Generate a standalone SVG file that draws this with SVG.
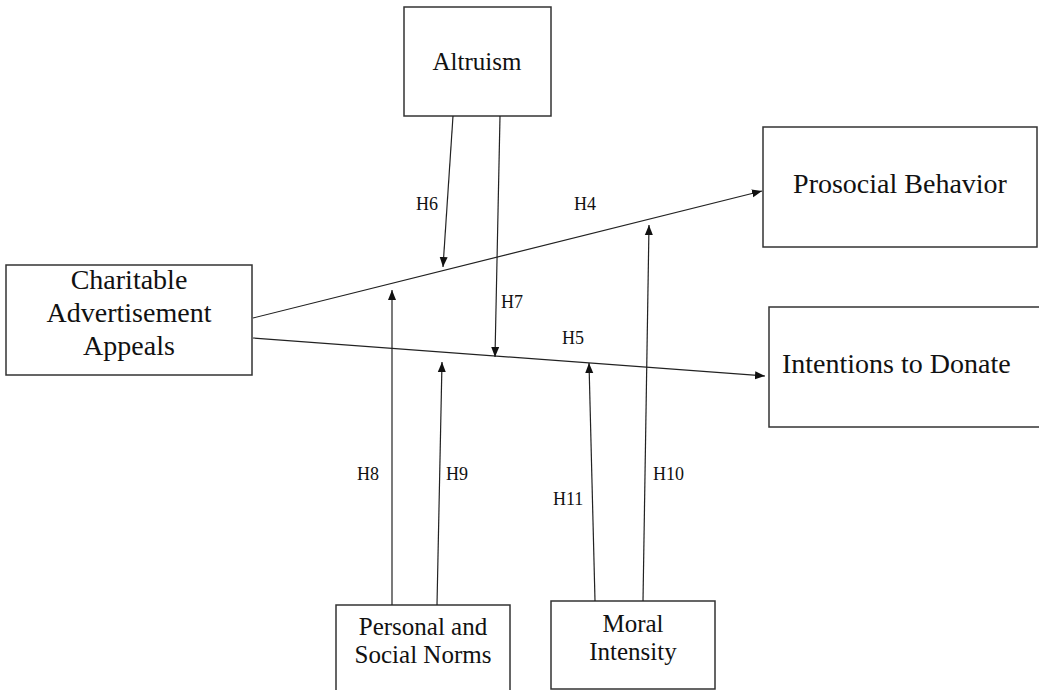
<svg xmlns="http://www.w3.org/2000/svg" width="1039" height="690" viewBox="0 0 1039 690">
<defs>
<marker id="ah" viewBox="0 0 10 10" refX="10" refY="5" markerWidth="10" markerHeight="10" markerUnits="userSpaceOnUse" orient="auto">
<path d="M0,1 L10,5 L0,9 Z" fill="#111"/>
</marker>
<style>
.box{fill:#fff;stroke:#333;stroke-width:1.5}
.t{font-family:"Liberation Serif","Times New Roman",serif;fill:#111;text-anchor:middle}
.lbl{font-family:"Liberation Serif","Times New Roman",serif;fill:#111;font-size:18px}
.c{stroke:#222;stroke-width:1.2;fill:none;marker-end:url(#ah)}
</style>
</defs>
<rect width="1039" height="690" fill="#fff"/>
<g id="altruism">
<rect class="box" x="404" y="7" width="147" height="109"/>
<text class="t" x="477" y="70" font-size="25">Altruism</text>
</g>
<g id="charitable">
<rect class="box" x="6" y="265" width="246" height="110"/>
<text class="t" x="129" y="289" font-size="28">Charitable</text>
<text class="t" x="129" y="322" font-size="28">Advertisement</text>
<text class="t" x="129" y="355" font-size="28">Appeals</text>
</g>
<g id="prosocial">
<rect class="box" x="763" y="127" width="274" height="120"/>
<text class="t" x="900" y="193" font-size="28">Prosocial Behavior</text>
</g>
<g id="intentions">
<rect class="box" x="769" y="307" width="272" height="120"/>
<text class="t" x="782" y="373" font-size="28" style="text-anchor:start">Intentions to Donate</text>
</g>
<g id="norms">
<rect class="box" x="336" y="605" width="174" height="90"/>
<text class="t" x="423" y="635" font-size="25">Personal and</text>
<text class="t" x="423" y="663" font-size="25">Social Norms</text>
</g>
<g id="moral">
<rect class="box" x="551" y="601" width="164" height="88"/>
<text class="t" x="633" y="632" font-size="25">Moral</text>
<text class="t" x="633" y="660" font-size="25">Intensity</text>
</g>
<g id="connectors">
<line class="c" x1="253" y1="318" x2="762" y2="191"/>
<line class="c" x1="253" y1="338" x2="765" y2="376"/>
<line class="c" x1="453" y1="116" x2="443" y2="267"/>
<line class="c" x1="500" y1="116" x2="495" y2="357"/>
<line class="c" x1="392" y1="605" x2="392" y2="290"/>
<line class="c" x1="437" y1="605" x2="442" y2="362"/>
<line class="c" x1="595" y1="601" x2="589" y2="363"/>
<line class="c" x1="643" y1="601" x2="649" y2="225"/>
<text class="lbl" x="416" y="210">H6</text>
<text class="lbl" x="574" y="210">H4</text>
<text class="lbl" x="501" y="308">H7</text>
<text class="lbl" x="562" y="344">H5</text>
<text class="lbl" x="357" y="480">H8</text>
<text class="lbl" x="446" y="480">H9</text>
<text class="lbl" x="553" y="505">H11</text>
<text class="lbl" x="653" y="480">H10</text>
</g>
</svg>
